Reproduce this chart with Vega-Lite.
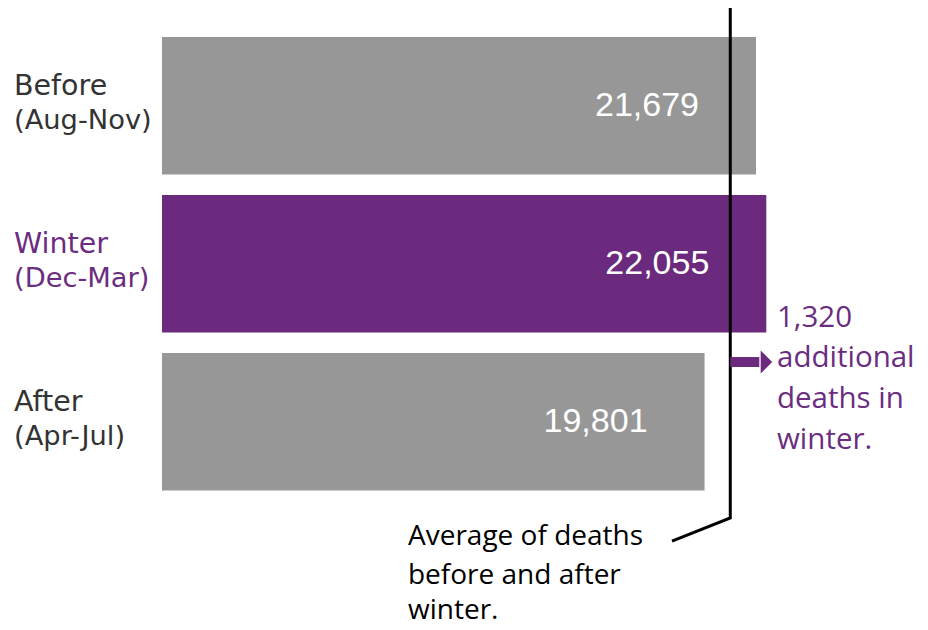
{
  "$schema": "https://vega.github.io/schema/vega-lite/v6.json",
  "width": 928,
  "height": 630,
  "autosize": "none",
  "padding": 0,
  "background": "white",
  "config": {"view": {"stroke": null}},
  "datasets": {
    "bars": [
      {"period": "Before", "months": "(Aug-Nov)", "deaths": 21679},
      {"period": "Winter", "months": "(Dec-Mar)", "deaths": 22055},
      {"period": "After", "months": "(Apr-Jul)", "deaths": 19801}
    ],
    "avgline": [
      {"deaths": 20740, "row": -0.619},
      {"deaths": 20740, "row": 2.609},
      {"deaths": 18613, "row": 2.755}
    ],
    "arrow": [{"from": 20740, "to": 21800, "tip": 22060, "row": 1.622}],
    "note": [
      {"line": "1,320", "deaths": 22445, "row": 1.343},
      {"line": "additional", "deaths": 22445, "row": 1.597},
      {"line": "deaths in", "deaths": 22445, "row": 1.856},
      {"line": "winter.", "deaths": 22445, "row": 2.115}
    ],
    "avgnote": [
      {"line": "Average of deaths", "deaths": 8978, "row": 2.730},
      {"line": "before and after", "deaths": 8978, "row": 2.978},
      {"line": "winter.", "deaths": 8978, "row": 3.200}
    ]
  },
  "resolve": {"scale": {"y": "independent"}},
  "layer": [
    {
      "data": {"name": "bars"},
      "layer": [
        {
          "mark": {"type": "bar"},
          "encoding": {
            "y": {"field": "period", "type": "nominal", "axis": null,
                  "scale": {"domain": ["Before", "Winter", "After"], "paddingInner": 0.13, "paddingOuter": 0.5587, "align": 0.2096}},
            "x": {"field": "deaths", "type": "quantitative", "axis": null,
                  "scale": {"domain": [-5912, 27956], "nice": false, "zero": false}},
            "color": {"field": "period", "type": "nominal", "legend": null,
                      "scale": {"domain": ["Before", "Winter", "After"], "range": ["#979797", "#6B2A7E", "#979797"]}}
          }
        },
        {
          "mark": {"type": "text", "align": "right", "baseline": "middle", "dx": -57, "font": "Liberation Sans", "fontSize": 34, "color": "white"},
          "encoding": {
            "y": {"field": "period", "type": "nominal"},
            "x": {"field": "deaths", "type": "quantitative"},
            "text": {"field": "deaths", "type": "quantitative", "format": ","}
          }
        },
        {
          "mark": {"type": "text", "align": "left", "baseline": "middle", "dx": -148, "dy": -20, "font": "DejaVu Sans", "fontSize": 28.5},
          "encoding": {
            "y": {"field": "period", "type": "nominal"},
            "x": {"datum": 0},
            "text": {"field": "period"},
            "color": {"condition": {"test": "datum.period === 'Winter'", "value": "#6B2D80"}, "value": "#333333"}
          }
        },
        {
          "mark": {"type": "text", "align": "left", "baseline": "middle", "dx": -148, "dy": 15, "font": "DejaVu Sans", "fontSize": 27.3},
          "encoding": {
            "y": {"field": "period", "type": "nominal"},
            "x": {"datum": 0},
            "text": {"field": "months"},
            "color": {"condition": {"test": "datum.period === 'Winter'", "value": "#6B2D80"}, "value": "#333333"}
          }
        }
      ]
    },
    {
      "layer": [
        {
          "data": {"name": "avgline"},
          "mark": {"type": "line", "color": "black", "strokeWidth": 3, "strokeCap": "butt"},
          "encoding": {
            "x": {"field": "deaths", "type": "quantitative"},
            "y": {"field": "row", "type": "quantitative", "axis": null,
                  "scale": {"domain": [-0.6693, 3.318], "reverse": true, "nice": false, "zero": false}},
            "order": {"field": "row"}
          }
        },
        {
          "data": {"name": "arrow"},
          "mark": {"type": "rule", "color": "#6B2A7E", "strokeWidth": 10},
          "encoding": {
            "x": {"field": "from", "type": "quantitative"},
            "x2": {"field": "to"},
            "y": {"field": "row", "type": "quantitative"}
          }
        },
        {
          "data": {"name": "arrow"},
          "mark": {"type": "point", "shape": "M-0.5,-1L0.5,0L-0.5,1Z", "filled": true, "opacity": 1, "color": "#6B2A7E", "size": 529},
          "encoding": {
            "x": {"field": "tip", "type": "quantitative"},
            "y": {"field": "row", "type": "quantitative"}
          }
        },
        {
          "data": {"name": "note"},
          "mark": {"type": "text", "align": "left", "baseline": "middle", "font": "Open Sans", "fontSize": 29.5, "color": "#6B2D80"},
          "encoding": {
            "x": {"field": "deaths", "type": "quantitative"},
            "y": {"field": "row", "type": "quantitative"},
            "text": {"field": "line"}
          }
        },
        {
          "data": {"name": "avgnote"},
          "mark": {"type": "text", "align": "left", "baseline": "middle", "font": "Open Sans", "fontSize": 28, "color": "black"},
          "encoding": {
            "x": {"field": "deaths", "type": "quantitative"},
            "y": {"field": "row", "type": "quantitative"},
            "text": {"field": "line"}
          }
        }
      ]
    }
  ]
}
